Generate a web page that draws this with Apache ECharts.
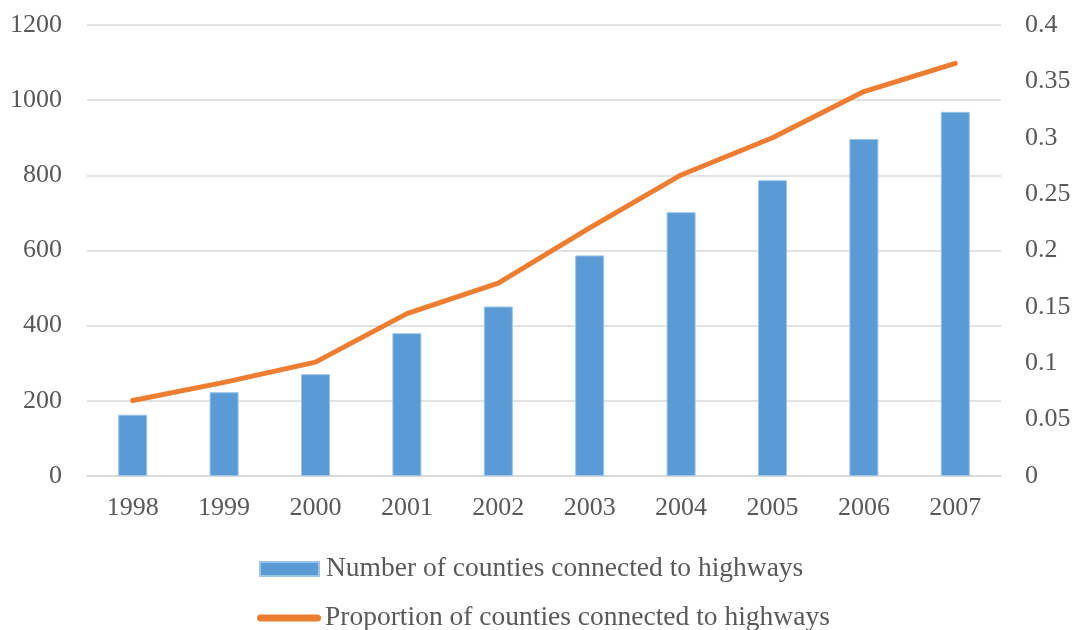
<!DOCTYPE html>
<html>
<head>
<meta charset="utf-8">
<script src="https://cdn.jsdelivr.net/npm/echarts@6/dist/echarts.min.js"></script>
<style>html,body{margin:0;padding:0;background:#fff}#c{width:1083px;height:630px}</style>
</head>
<body>
<div id="c"></div>
<script>
const years = ['1998','1999','2000','2001','2002','2003','2004','2005','2006','2007'];
const countiesConnected = [163, 223, 271, 380, 451, 587, 702, 787, 897, 969];
const proportionConnected = [0.067, 0.083, 0.101, 0.144, 0.171, 0.220, 0.267, 0.300, 0.341, 0.366];
const barName = 'Number of counties connected to highways';
const lineName = 'Proportion of counties connected to highways';

const font = '"Liberation Serif", "DejaVu Serif", serif';
const txt = '#595959';
const chart = echarts.init(document.getElementById('c'), null, {renderer: 'canvas'});
chart.setOption({
  animation: false,
  backgroundColor: '#fff',
  grid: {left: 87, right: 82, top: 25, bottom: 154, containLabel: false},
  legend: [
    {left: 254, top: 550, itemWidth: 59, itemHeight: 14, icon: 'rect',
     textStyle: {fontFamily: font, fontSize: 27.5, color: txt, padding: [0, 0, 0, 2]},
     data: [barName]},
    {left: 252, top: 599, itemWidth: 64, itemHeight: 7,
     icon: 'path://M3.5,0 H60.5 A3.5,3.5 0 0 1 60.5,7 H3.5 A3.5,3.5 0 0 1 3.5,0 Z',
     textStyle: {fontFamily: font, fontSize: 27.5, color: txt, padding: [0, 0, 0, -1]},
     data: [lineName]}
  ],
  xAxis: {
    type: 'category', data: years,
    axisLine: {show: true, lineStyle: {color: '#d9d9d9', width: 1.5}},
    axisTick: {show: false},
    axisLabel: {fontFamily: font, fontSize: 26, color: txt, margin: 19}
  },
  yAxis: [
    {type: 'value', min: 0, max: 1200, interval: 200,
     axisLine: {show: false}, axisTick: {show: false},
     axisLabel: {fontFamily: font, fontSize: 26, color: txt, margin: 25,
       formatter: v => String(v)},
     splitLine: {lineStyle: {color: '#d9d9d9', width: 1.5}}},
    {type: 'value', min: 0, max: 0.4, interval: 0.05,
     axisLine: {show: false}, axisTick: {show: false},
     axisLabel: {fontFamily: font, fontSize: 26, color: txt, margin: 24,
       formatter: v => String(parseFloat(v.toFixed(2)))},
     splitLine: {show: false}}
  ],
  series: [
    {name: barName, type: 'bar', data: countiesConnected, barWidth: 29,
     itemStyle: {color: '#5B9BD5', borderColor: '#9dc3e6', borderWidth: 1}},
    {name: lineName, type: 'line', yAxisIndex: 1, data: proportionConnected,
     symbol: 'none', lineStyle: {color: '#ED7D31', width: 5, cap: 'round', join: 'round'},
     itemStyle: {color: '#ED7D31'}}
  ]
});
</script>
</body>
</html>
